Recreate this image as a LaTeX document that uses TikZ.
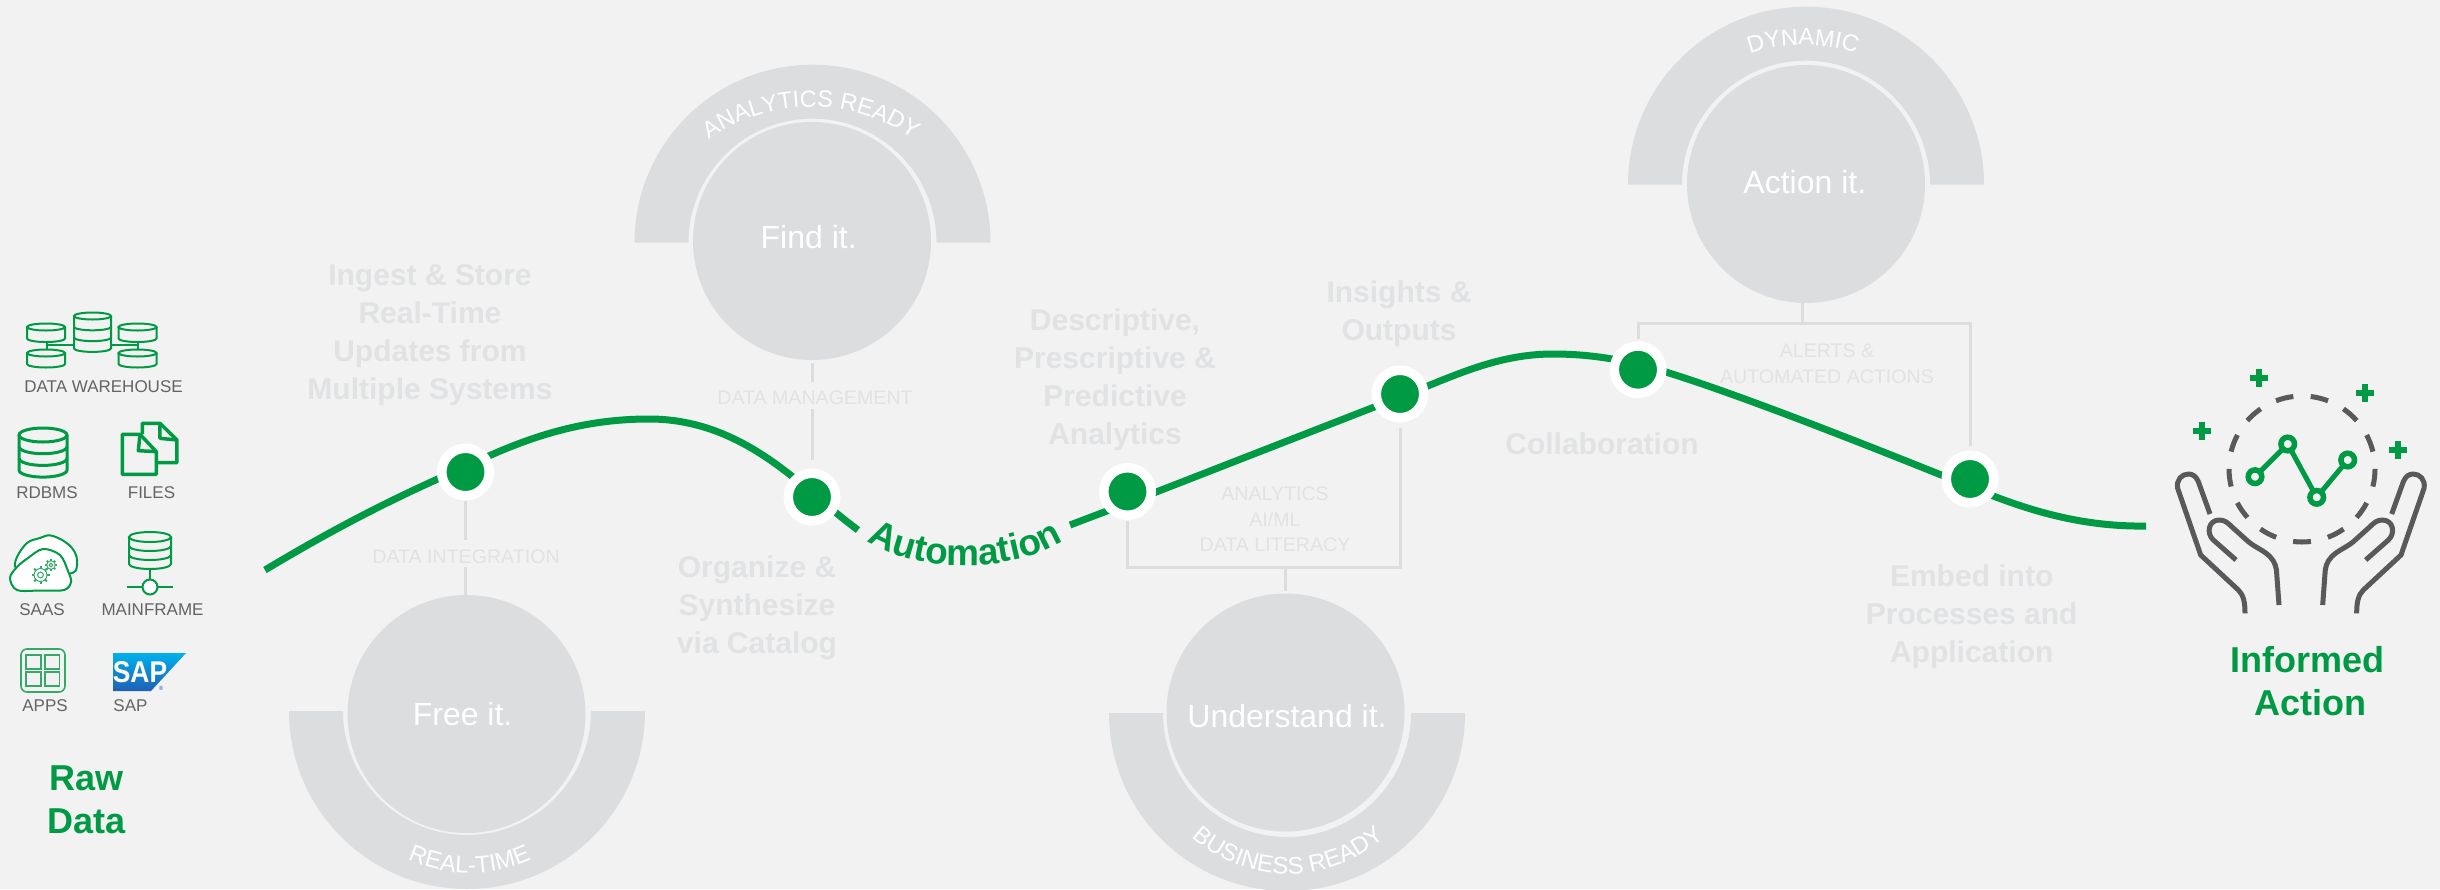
\documentclass[tikz,border=0pt]{standalone}
\usepackage{fontspec}
\setmainfont{Liberation Sans}
\usetikzlibrary{decorations.text,calc}
\definecolor{bgc}{HTML}{F2F2F2}
\definecolor{ringc}{HTML}{DCDDDE}
\definecolor{fadet}{HTML}{E1E2E4}
\definecolor{brandg}{HTML}{009A44}
\definecolor{thing}{HTML}{35A968}
\definecolor{iconk}{HTML}{58595B}
\definecolor{labk}{HTML}{636466}
\definecolor{sapa}{HTML}{00B1EB}
\definecolor{sapb}{HTML}{1F5FB5}
\newcommand\arcA{\fontsize{23.5}{24}\selectfont\color{white}}
\newcommand\arcB{\fontsize{24}{24}\selectfont\color{white}}
\newcommand\arcG{\fontsize{37}{37}\selectfont\bfseries\color{brandg}}
\newcommand\halfup[2]{\fill[ringc] ({#1-178},#2) arc[start angle=180,end angle=0,radius=178pt] -- ({#1+124},#2) arc[start angle=0,end angle=180,radius=124pt] -- cycle;}
\newcommand\halfdown[2]{\fill[ringc] ({#1-178},#2) arc[start angle=180,end angle=360,radius=178pt] -- ({#1+124},#2) arc[start angle=360,end angle=180,radius=124pt] -- cycle;}
\newcommand\cylinder[6]{%
  \draw (#1,#2) ellipse [x radius=#3 pt,y radius=#4 pt];
  \draw ({#1-#3},#2) -- ({#1-#3},{#2+#5*#6}) arc[start angle=180,end angle=360,x radius=#3 pt,y radius=#4 pt] -- ({#1+#3},#2);
  \foreach \k in {1,...,#6}{\ifnum\k<#6\relax
    \draw ({#1-#3},{#2+#5*\k}) arc[start angle=180,end angle=360,x radius=#3 pt,y radius=#4 pt];\fi}
}
\newcommand\plusmark[2]{\draw[brandg,line width=6pt] ({#1-9},#2) -- ({#1+9},#2) ({#1},{#2-9}) -- ({#1},{#2+9});}
\newcommand\gearmark[3]{%
  \foreach \a in {0,45,...,315}{\draw[thing,line width=2pt] ($(#1,#2)+(\a:#3*0.72 pt)$) -- ($(#1,#2)+(\a:#3 pt)$);}
  \draw[thing,line width=1pt] (#1,#2) circle [radius=#3*0.72 pt];
  \draw[thing,line width=1pt] (#1,#2) circle [radius=#3*0.32 pt];
}
\tikzset{
  big/.style={circle,fill=ringc,minimum size=238pt,inner sep=0pt,outer sep=0pt},
  bigtxt/.style={text=white,font=\fontsize{32}{32}\selectfont,inner sep=0pt},
  hub/.style={circle,fill=brandg,draw=white,line width=9.5pt,minimum size=47.5pt,inner sep=0pt},
  conn/.style={ringc,line width=3pt},
  small/.style={text=fadet,font=\fontsize{19.6}{25.5}\selectfont,align=center,inner sep=0pt},
  head/.style={text=fadet,font=\fontsize{30}{38}\selectfont\bfseries,align=center,inner sep=0pt},
  srclab/.style={text=labk,font=\fontsize{17}{17}\selectfont,inner sep=0pt},
  green/.style={text=brandg,font=\fontsize{36}{43.5}\selectfont\bfseries,align=center,inner sep=0pt},
  curve/.style={brandg,line width=7pt},
  icn/.style={brandg,line width=2pt},
}
\begin{document}
\begin{tikzpicture}[x=1pt,y=-1pt]
\useasboundingbox (0,0) rectangle (2440,889);
\fill[bgc] (0,0) rectangle (2440,889);

% half rings
\halfdown{467}{711}
\halfup{812.5}{242.7}
\halfdown{1287}{713}
\halfup{1806}{184.7}

\path[decorate,decoration={text along path,text align=center,text={|\arcA|ANALYTICS READY}}] (633,285) arc[start angle=180,end angle=0,radius=178pt];
\path[decorate,decoration={text along path,text align=center,text={|\arcA|DYNAMIC}}] (1634,214) arc[start angle=180,end angle=0,radius=169pt];
\path[decorate,decoration={text along path,text align=center,text={|\arcB|REAL-TIME}}] (323,726.5) arc[start angle=180,end angle=360,radius=146.5pt];
\path[decorate,decoration={text along path,text align=center,text={|\arcB|BUSINESS READY}}] (1143,729) arc[start angle=180,end angle=360,radius=145pt];

% circles
\node[big] (free) at (466.5,714) {};
\node[big] (find) at (812,241) {};
\node[big] (understand) at (1285.5,712.5) {};
\node[big] (action) at (1806,184) {};
\node[bigtxt] at (462.6,714) {Free it.};
\node[bigtxt] at (808.7,237) {Find it.};
\node[bigtxt] at (1287,716) {Understand it.};
\node[bigtxt] at (1804.8,182) {Action it.};

% green curve
\coordinate (cstart) at (265,570);
\coordinate (cgapa) at (858,530);
\coordinate (cgapb) at (1070,525);
\coordinate (cend) at (2146,526);
\draw[curve] (cstart) .. controls (340,525) and (400,495) .. (465,467)
  .. controls (525,438) and (580,419) .. (649,419)
  .. controls (715,419) and (765,452) .. (812,493)
  .. controls (828,506) and (843,519) .. (cgapa);
\draw[curve] (cgapb) -- (1128,503) -- (1400,397)
  .. controls (1450,378) and (1495,354) .. (1553,354)
  .. controls (1585,354) and (1610,358) .. (1638,364)
  .. controls (1700,380) and (1830,430) .. (1971,487)
  .. controls (2030,512) and (2085,527) .. (cend);
\path[decorate,decoration={text along path,text align=center,text={|\arcG|Automation}}] (852,530) .. controls (900,577) and (1030,577) .. (1078,530);

% hubs
\node[hub] (h1) at (465.5,472) {};
\node[hub] (h2) at (812,497) {};
\node[hub] (h3) at (1127.5,491.5) {};
\node[hub] (h4) at (1400,394) {};
\node[hub] (h5) at (1638,369.7) {};
\node[hub] (h6) at (1970,479) {};

% small labels
\node[small] (lint) at (466,556.6) {DATA INTEGRATION};
\node[small] (lman) at (815,398) {DATA MANAGEMENT};
\node[small] (lana) at (1275,519.5) {ANALYTICS\\AI/ML\\DATA LITERACY};
\node[small] (lale) at (1827,363.5) {ALERTS \&\\AUTOMATED ACTIONS};

% connectors
\draw[conn] (h1.south) -- (h1.south |- 0,540);
\draw[conn] (h1.south |- 0,567) -- (h1.south |- free.north);
\draw[conn,shorten <=3pt] (find.south) -- (find.south |- 0,382);
\draw[conn,shorten >=9pt] (find.south |- 0,409) -- (h2.north);
\coordinate (ubar) at (1285,567);
\draw[conn,shorten <=1pt] (h3.south) |- (ubar);
\draw[conn,shorten <=5pt] (h4.south) |- (ubar);
\draw[conn,shorten >=3pt] (ubar) -- (ubar |- understand.north);
\coordinate (abar) at (1802,323);
\draw[conn] (abar) -- (abar |- action.south);
\draw[conn,shorten <=2pt] (h5.north) |- (abar);
\draw[conn,shorten <=4.5pt] (h6.north) |- (abar);

% faded headings
\node[head] at (430,335.5) {Ingest \& Store\\Real-Time\\Updates from\\Multiple Systems};
\node[head] at (757,608) {Organize \&\\Synthesize\\via Catalog};
\node[head] at (1115,379.5) {Descriptive,\\Prescriptive \&\\Predictive\\Analytics};
\node[head] at (1399,314) {Insights \&\\Outputs};
\node[head] at (1602,444) {Collaboration};
\node[head] at (1971.7,617) {Embed into\\Processes and\\Application};

% source icons: data warehouse
\begin{scope}[icn]
\cylinder{92.5}{316}{18.5}{3.5}{10.8}{3}
\cylinder{46}{327}{19}{3.5}{11.5}{1}
\cylinder{46}{353}{19}{3.5}{11}{1}
\cylinder{137.5}{327}{19}{3.5}{11.5}{1}
\cylinder{137.5}{353}{19}{3.5}{11}{1}
\draw (47,345) -- (74,345) (47,342) -- (47,349);
\draw (111,345) -- (137.5,345) (137.5,342) -- (137.5,349);
\end{scope}
\node[srclab] (ldw) at (103.5,387) {DATA WAREHOUSE};
% rdbms
\begin{scope}[brandg,line width=3pt]
\cylinder{43}{435}{24}{7}{11.7}{3}
\end{scope}
\node[srclab] (lrd) at (47,493) {RDBMS};
% files
\begin{scope}[shift={(0,290)},scale=0.33333,brandg,line width=3.5pt,line join=round]
\draw (427,432) -- (427,400) -- (480,400) -- (531,450) -- (531,518) -- (470,518);
\draw (480,400) -- (480,445) -- (531,450);
\draw (367,433) -- (420,433) -- (469,485) -- (469,553) -- (367,553) -- cycle;
\draw (420,433) -- (415,482) -- (469,485);
\end{scope}
\node[srclab] (lfi) at (151.5,493) {FILES};
% saas
\draw[icn,fill=white] plot[smooth cycle,tension=.7] coordinates {(15,566) (25,545) (40,538) (53,536) (72,548) (77,565) (68,574) (30,574)};
\draw[icn,fill=white] plot[smooth cycle,tension=.55] coordinates {(10,578) (17,567) (28,558) (43,549) (60,555) (68,571) (71,582) (64,590) (40,590.5) (17,590)};
\gearmark{40.5}{575}{9}
\gearmark{51}{565}{6}
\node[srclab] (lsa) at (42,610) {SAAS};
% mainframe
\begin{scope}[icn]
\cylinder{150}{537}{21}{5}{9}{3}
\draw (150,569) -- (150,580);
\draw (127,587) -- (173,587);
\draw[fill=white] (150,587) circle [radius=7.5pt];
\end{scope}
\node[srclab] (lma) at (152.5,610) {MAINFRAME};
% apps
\begin{scope}[thing,line width=1.6pt]
\draw[rounded corners=6pt] (21,649) rectangle (65,692);
\draw (26,655) rectangle (40.7,669) (44.7,655) rectangle (59.3,669);
\draw (26,672) rectangle (40.7,686) (44.7,672) rectangle (59.3,686);
\end{scope}
\node[srclab] (lap) at (45,706) {APPS};
% sap
\shade[top color=sapa,bottom color=sapb] (113,653) -- (186,653) -- (151,691) -- (113,691) -- cycle;
\node[text=white,font=\fontsize{30}{30}\selectfont\bfseries,inner sep=0pt,xscale=.88] (saplogo) at (140,672.5) {SAP};
\node[text=sapb,font=\fontsize{6}{6}\selectfont,inner sep=0pt] (sapreg) at (161,688) {®};
\node[srclab] (lsp) at (130.5,706) {SAP};
% raw data
\node[green] (raw) at (87,800) {Raw\\Data};

% informed action icon
\foreach \k in {0,...,12}{
  \draw[iconk,line width=5pt] ($(2302,469)+({270+\k*27.69-7}:73pt)$) arc[start angle={270+\k*27.69-7},end angle={270+\k*27.69+7},radius=73pt];
}
\foreach \s in {1,-1}{
\begin{scope}[shift={(2300.83,340)},xscale=\s*0.33333,yscale=0.33333,shift={(-512.5,0)},iconk,line width=5pt,line join=round]
\draw (240,522) -- (205,425) .. controls (198,408) and (187,402) .. (175,402) .. controls (155,402) and (138,420) .. (143,445) -- (212,645) -- (325,750) .. controls (340,765) and (345,785) .. (345,820);
\draw (318,660) -- (250,600) .. controls (228,580) and (235,540) .. (268,540) .. controls (285,540) and (295,550) .. (305,560) -- (355,605) .. controls (380,625) and (400,630) .. (420,650) .. controls (435,665) and (440,685) .. (440,700) -- (447,795);
\end{scope}}
\coordinate (p1) at (2255,476.7);
\coordinate (p2) at (2287.7,444);
\coordinate (p3) at (2316.7,497.3);
\coordinate (p4) at (2347.7,460);
\draw[brandg,line width=5pt] (p1) -- (p2) -- (p3) -- (p4);
\foreach \p in {p1,p2,p3,p4}{\draw[brandg,line width=5.5pt,fill=bgc] (\p) circle [radius=6.8pt];}
\plusmark{2259.3}{378.3}
\plusmark{2365}{392.7}
\plusmark{2202}{431}
\plusmark{2398.3}{450.3}
\node[green] (informed) at (2307,681) {Informed\\\hspace*{6pt}Action};
\end{tikzpicture}
\end{document}
